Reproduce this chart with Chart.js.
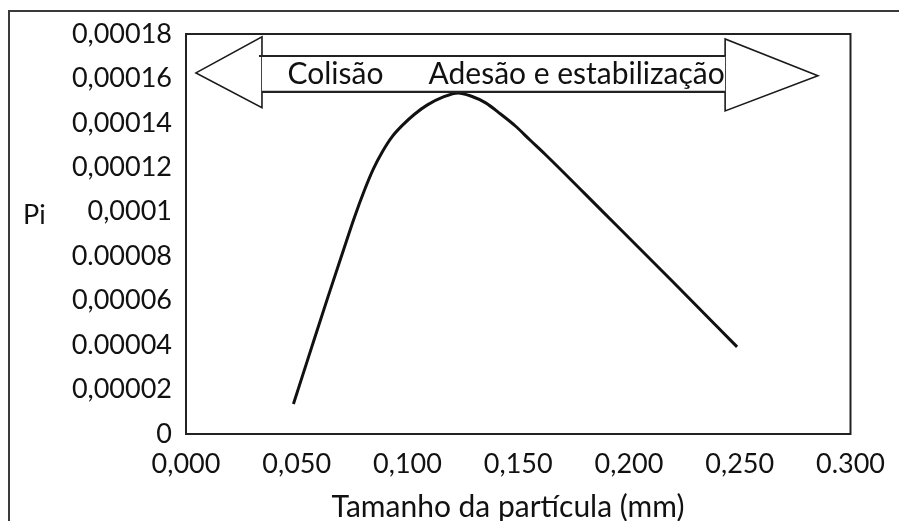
<!DOCTYPE html>
<html>
<head>
<meta charset="utf-8">
<script src="https://cdn.jsdelivr.net/npm/chart.js@4.4.1/dist/chart.umd.min.js"></script>
<style>
  html, body { margin: 0; padding: 0; background: #fff; overflow: hidden; }
  #wrap { position: relative; width: 899px; height: 521px; }
  #frame { position: absolute; left: 8px; top: 10px; width: 920px; height: 560px;
    border-left: 2.5px solid #3a3a3a; border-top: 2.5px solid #3a3a3a; pointer-events: none; }
  canvas { position: absolute; left: 0; top: 0; }
</style>
</head>
<body>
<div id="wrap">
  <canvas id="c" width="899" height="521"></canvas>
  <div id="frame"></div>
</div>
<script>
// valores
const particleSize = [0.0485, 0.0565, 0.0641, 0.0708, 0.0761, 0.0806, 0.0846, 0.0886, 0.0930,
  0.0979, 0.1033, 0.1090, 0.1162, 0.1228, 0.1286, 0.1353, 0.1420, 0.1487, 0.1553, 0.1620,
  0.1887, 0.2199, 0.2488];
const piValues = [0.0000135, 0.0000383, 0.0000617, 0.0000819, 0.0000977, 0.0001098, 0.0001193,
  0.0001269, 0.0001337, 0.0001391, 0.0001440, 0.0001481, 0.0001517, 0.0001535, 0.0001521,
  0.0001490, 0.0001440, 0.0001386, 0.0001323, 0.0001260, 0.0000995, 0.0000684, 0.0000392];

const xTickValues = [0, 0.05, 0.1, 0.15, 0.2, 0.25, 0.3];
const xTickLabels = ['0,000', '0,050', '0,100', '0,150', '0,200', '0,250', '0.300'];
const yTickValues = [0, 0.00002, 0.00004, 0.00006, 0.00008, 0.0001, 0.00012, 0.00014, 0.00016, 0.00018];
const yTickLabels = ['0', '0,00002', '0.00004', '0,00006', '0.00008', '0,0001', '0,00012', '0,00014', '0,00016', '0,00018'];

const xTitle = 'Tamanho da partícula (mm)';
const yTitle = 'Pi';
const zoneLabels = ['Colisão', 'Adesão e estabilização'];

// geometria da seta dupla, em unidades dos eixos
const arrow = {
  leftTip: [0.0045, 0.0001625], leftBase: 0.0343, leftTop: 0.0001787, leftBottom: 0.0001468,
  rightTip: [0.2853, 0.0001612], rightBase: 0.2434, rightTop: 0.0001778, rightBottom: 0.0001454,
  shaftTop: 0.0001701, shaftBottom: 0.0001540,
  labelX: [0.0458, 0.1095], labelY: 0.000162,
};

const font = 'Lato, "Open Sans", sans-serif';
const ink = '#111';

const annotations = {
  id: 'annotations',
  beforeDatasetsDraw(chart) {
    const { ctx, chartArea: a } = chart;
    ctx.save();
    ctx.strokeStyle = '#222'; ctx.lineWidth = 2;
    ctx.strokeRect(a.left, a.top, a.right - a.left, a.bottom - a.top);
    ctx.restore();
  },
  afterDatasetsDraw(chart) {
    const { ctx } = chart;
    const X = (v) => chart.scales.x.getPixelForValue(v);
    const Y = (v) => chart.scales.y.getPixelForValue(v);
    ctx.save();
    ctx.strokeStyle = '#1a1a1a'; ctx.lineWidth = 1.6; ctx.fillStyle = '#fff';
    // cabeças
    ctx.beginPath();
    ctx.moveTo(X(arrow.leftTip[0]), Y(arrow.leftTip[1]));
    ctx.lineTo(X(arrow.leftBase), Y(arrow.leftTop));
    ctx.lineTo(X(arrow.leftBase), Y(arrow.leftBottom));
    ctx.closePath(); ctx.fill(); ctx.stroke();
    ctx.beginPath();
    ctx.moveTo(X(arrow.rightTip[0]), Y(arrow.rightTip[1]));
    ctx.lineTo(X(arrow.rightBase), Y(arrow.rightTop));
    ctx.lineTo(X(arrow.rightBase), Y(arrow.rightBottom));
    ctx.closePath(); ctx.fill(); ctx.stroke();
    // haste
    ctx.fillRect(X(arrow.leftBase), Y(arrow.shaftTop), X(arrow.rightBase) - X(arrow.leftBase), Y(arrow.shaftBottom) - Y(arrow.shaftTop));
    ctx.lineWidth = 2.2; ctx.strokeStyle = '#222';
    ctx.beginPath();
    ctx.moveTo(X(arrow.leftBase) - 3, Y(arrow.shaftTop)); ctx.lineTo(X(arrow.rightBase), Y(arrow.shaftTop));
    ctx.moveTo(X(arrow.leftBase), Y(arrow.shaftBottom)); ctx.lineTo(X(arrow.rightBase), Y(arrow.shaftBottom));
    ctx.stroke();
    // textos
    ctx.fillStyle = ink; ctx.font = `30px ${font}`; ctx.textBaseline = 'middle'; ctx.textAlign = 'left';
    zoneLabels.forEach((t, i) => ctx.fillText(t, X(arrow.labelX[i]), Y(arrow.labelY)));
    ctx.font = `27px ${font}`;
    ctx.fillText(yTitle, 23, Y(0.0000985));
    ctx.font = `30px ${font}`; ctx.textAlign = 'center';
    ctx.fillText(xTitle, 508, 507);
    ctx.restore();
  },
};

new Chart(document.getElementById('c'), {
  type: 'line',
  data: {
    datasets: [{
      data: particleSize.map((x, i) => ({ x, y: piValues[i] })),
      borderColor: '#111', borderWidth: 3, pointRadius: 0, cubicInterpolationMode: 'monotone', fill: false,
    }],
  },
  options: {
    responsive: false, animation: false, events: [],
    layout: { padding: { left: 0, right: 39, top: 34, bottom: 0 } },
    plugins: { legend: { display: false }, tooltip: { enabled: false } },
    scales: {
      x: {
        type: 'linear', min: 0, max: 0.3,
        afterBuildTicks: (s) => { s.ticks = xTickValues.map((v) => ({ value: v })); },
        afterFit: (s) => { s.height = 87; },
        grid: { display: false, drawTicks: false }, border: { display: false },
        ticks: { color: ink, font: { family: font, size: 27 }, padding: 14, maxRotation: 0, autoSkip: false,
          callback: (v, i) => xTickLabels[i] },
      },
      y: {
        type: 'linear', min: 0, max: 0.00018,
        afterBuildTicks: (s) => { s.ticks = yTickValues.map((v) => ({ value: v })); },
        afterFit: (s) => { s.width = 186; },
        grid: { display: false, drawTicks: false }, border: { display: false },
        ticks: { color: ink, font: { family: font, size: 27 }, padding: 14, autoSkip: false,
          callback: (v, i) => yTickLabels[i] },
      },
    },
  },
  plugins: [annotations],
});
</script>
</body>
</html>
